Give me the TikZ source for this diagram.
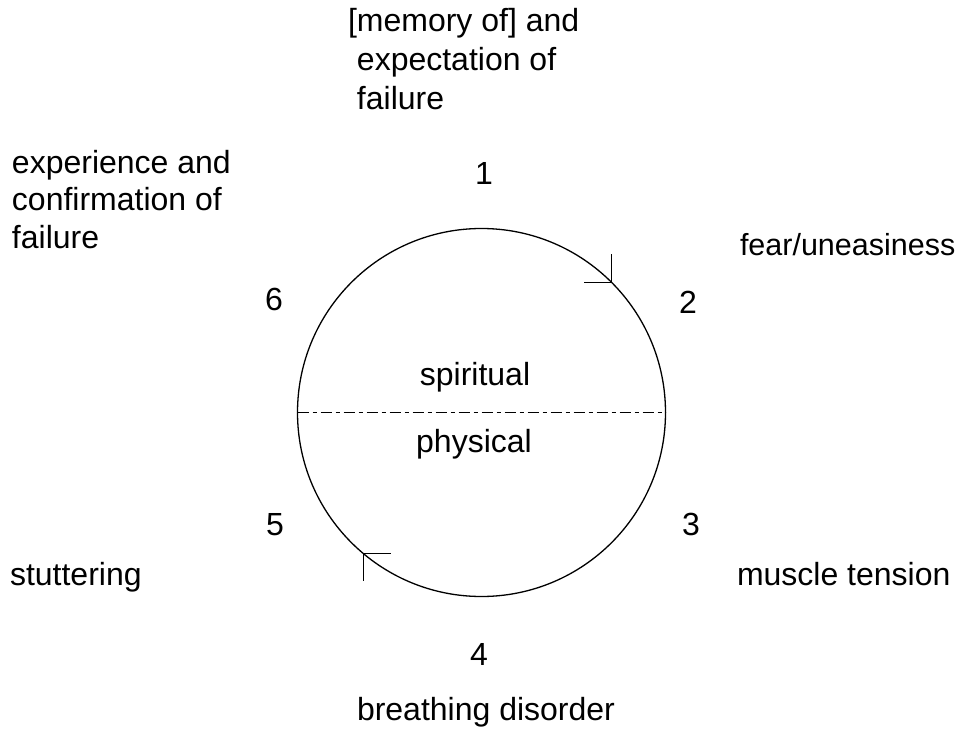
\documentclass[tikz,border=0pt]{standalone}
\usepackage{fontspec}
\setmainfont{Liberation Sans}
\begin{document}
\begin{tikzpicture}[x=1pt,y=-1pt,
  lbl/.style={inner sep=0pt, outer sep=0pt, font=\fontsize{32}{37.5}\selectfont, anchor=base west, align=left},
  toplbl/.style={lbl, font=\fontsize{32}{39}\selectfont},
  num/.style={inner sep=0pt, outer sep=0pt, font=\fontsize{32}{38}\selectfont, anchor=base},
  ring/.style={circle, draw, line width=1.3pt, minimum size=368pt, inner sep=0pt, outer sep=0pt},
  divider/.style={line width=1.2pt, dash pattern=on 11pt off 4pt on 4pt off 4pt},
  tickmark/.style={line width=1.3pt}]
\useasboundingbox (0,0) rectangle (956,733);
\fill[white] (0,0) rectangle (956,733);

\node[ring] (cyc) at (481.5,412.5) {};
\draw[divider] (cyc.west) -- (cyc.east);

% arrow ticks
\coordinate (t1) at (cyc.45);
\coordinate (t2) at (cyc.230);
\draw[tickmark] (t1) -- ++(-28,0);
\draw[tickmark] (t1) -- ++(0,-28);
\draw[tickmark] (t2) -- ++(28,0);
\draw[tickmark] (t2) -- ++(0,28);

% inner labels
\node[num] (spir) at (475,385) {spiritual};
\node[num] (phys) at (474,452) {physical};

% numbers
\node[num] (n1) at (484,185) {1};
\node[num] (n2) at (688,313) {2};
\node[num] (n3) at (691,535) {3};
\node[num] (n4) at (479,665) {4};
\node[num] (n5) at (275,535) {5};
\node[num] (n6) at (274,310) {6};

% outer labels (multi-line nodes: base = last line)
\node[toplbl] (l1) at (348,110) {[memory of] and\\\hspace*{0.28em}expectation of\\\hspace*{0.28em}failure};
\node[lbl, font=\fontsize{30.5}{37.5}\selectfont] (l2) at (740,255) {fear/uneasiness};
\node[lbl] (l3) at (737,585) {muscle tension};
\node[lbl] (l4) at (357,720) {breathing disorder};
\node[lbl] (l5) at (10,585) {stuttering};
\node[lbl] (l6) at (12,248) {experience and\\confirmation of\\failure};
\end{tikzpicture}
\end{document}
